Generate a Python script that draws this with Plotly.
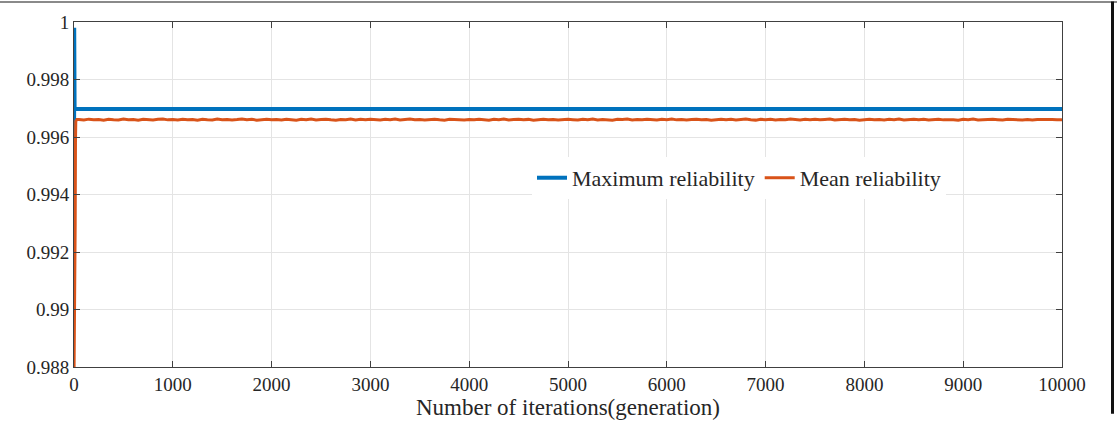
import plotly.graph_objects as go

# ---------------- data ----------------
max_iter = [0, 2, 6, 10000]
max_rel = [0.99250, 0.99980, 0.99697, 0.99697]

mean_iter_early = [0, 3, 6, 9, 12, 15, 18, 30]
mean_rel_early = [0.98760, 0.98910, 0.98790, 0.98880, 0.99300, 0.99580, 0.99655, 0.99661]

mean_iter_late = list(range(50, 10001, 50))
mean_rel_late = [
    0.996612, 0.996588, 0.996621, 0.996597, 0.996605, 0.996583, 0.996618, 0.996601, 0.996592, 0.996624,
    0.996599, 0.996610, 0.996586, 0.996619, 0.996603, 0.996590, 0.996615, 0.996622, 0.996596, 0.996607,
    0.996589, 0.996617, 0.996600, 0.996611, 0.996584, 0.996620, 0.996604, 0.996593, 0.996623, 0.996598,
    0.996609, 0.996591, 0.996606, 0.996625, 0.996597, 0.996613, 0.996585, 0.996602, 0.996619, 0.996599,
    0.996612, 0.996590, 0.996621, 0.996603, 0.996587, 0.996614, 0.996598, 0.996623, 0.996592, 0.996606,
    0.996618, 0.996600, 0.996586, 0.996611, 0.996604, 0.996624, 0.996593, 0.996613, 0.996597, 0.996620,
    0.996605, 0.996588, 0.996616, 0.996599, 0.996622, 0.996591, 0.996607, 0.996625, 0.996598, 0.996612,
    0.996590, 0.996604, 0.996619, 0.996600, 0.996585, 0.996614, 0.996606, 0.996623, 0.996594, 0.996611,
    0.996598, 0.996620, 0.996603, 0.996587, 0.996615, 0.996601, 0.996624, 0.996592, 0.996608, 0.996618,
    0.996599, 0.996613, 0.996586, 0.996605, 0.996621, 0.996597, 0.996610, 0.996591, 0.996606, 0.996616,
    0.996602, 0.996589, 0.996619, 0.996604, 0.996623, 0.996595, 0.996611, 0.996600, 0.996586, 0.996617,
    0.996606, 0.996622, 0.996593, 0.996609, 0.996598, 0.996620, 0.996603, 0.996588, 0.996614, 0.996601,
    0.996625, 0.996596, 0.996610, 0.996590, 0.996607, 0.996618, 0.996599, 0.996612, 0.996585, 0.996604,
    0.996621, 0.996597, 0.996613, 0.996592, 0.996608, 0.996624, 0.996600, 0.996587, 0.996616, 0.996603,
    0.996619, 0.996594, 0.996611, 0.996598, 0.996622, 0.996605, 0.996589, 0.996614, 0.996601, 0.996617,
    0.996596, 0.996609, 0.996623, 0.996591, 0.996606, 0.996619, 0.996599, 0.996612, 0.996586, 0.996603,
    0.996620, 0.996597, 0.996610, 0.996593, 0.996615, 0.996602, 0.996624, 0.996590, 0.996607, 0.996618,
    0.996598, 0.996613, 0.996588, 0.996605, 0.996621, 0.996596, 0.996611, 0.996600, 0.996585, 0.996616,
    0.996604, 0.996622, 0.996594, 0.996609, 0.996599, 0.996619, 0.996602, 0.996589, 0.996614, 0.996606,
    0.996623, 0.996595, 0.996610, 0.996591, 0.996608, 0.996617, 0.996600, 0.996612, 0.996597, 0.996604,
]

mean_iter = mean_iter_early + mean_iter_late
mean_rel = mean_rel_early + mean_rel_late

x_ticks = [0, 1000, 2000, 3000, 4000, 5000, 6000, 7000, 8000, 9000, 10000]
x_tick_labels = ["0", "1000", "2000", "3000", "4000", "5000", "6000", "7000", "8000", "9000", "10000"]
y_ticks = [0.988, 0.990, 0.992, 0.994, 0.996, 0.998, 1.0]
y_tick_labels = ["0.988", "0.99", "0.992", "0.994", "0.996", "0.998", "1"]

series_names = ["Maximum reliability", "Mean reliability"]
x_title = "Number of iterations(generation)"

# ---------------- layout constants ----------------
W, H = 1117, 423
L, R, T, B = 74, 55, 21, 48
PW, PH = W - L - R, H - T - B
FONT = "Liberation Serif"
AXIS_COLOR = "#404040"
GRID_COLOR = "#e4e4e4"

def px_to_paper_x(px):
    return (px - L) / PW

def px_to_paper_y(py):
    return (H - B - py) / PH

fig = go.Figure()
fig.add_trace(go.Scatter(x=max_iter, y=max_rel, mode="lines", name=series_names[0],
                         line=dict(color="#0072BD", width=4)))
fig.add_trace(go.Scatter(x=mean_iter, y=mean_rel, mode="lines", name=series_names[1],
                         line=dict(color="#D95319", width=3)))

axis_common = dict(showline=True, linecolor=AXIS_COLOR, linewidth=1, mirror="ticks",
                   ticks="inside", ticklen=6, tickcolor=AXIS_COLOR, tickwidth=1,
                   showgrid=True, gridcolor=GRID_COLOR, gridwidth=1, zeroline=False,
                   tickfont=dict(family=FONT, size=19, color="#262626"))

fig.update_xaxes(range=[0, 10000], tickvals=x_ticks, ticktext=x_tick_labels,
                 title=dict(text=x_title, font=dict(family=FONT, size=23, color="#262626"), standoff=0),
                 **axis_common)
fig.update_yaxes(range=[0.988, 1.0], tickvals=y_ticks, ticktext=y_tick_labels,
                 **axis_common)

fig.update_layout(
    width=W, height=H,
    margin=dict(l=L, r=R, t=T, b=B, pad=0),
    paper_bgcolor="white", plot_bgcolor="white",
    font=dict(family=FONT, color="#262626"),
    legend=dict(orientation="h", x=px_to_paper_x(532), y=px_to_paper_y(181),
                xanchor="left", yanchor="middle", bgcolor="white", borderwidth=0,
                font=dict(family=FONT, size=22, color="#262626"), itemwidth=30,
                tracegroupgap=0),
    shapes=[
        dict(type="line", xref="paper", yref="paper",
             x0=px_to_paper_x(0), x1=px_to_paper_x(W), y0=px_to_paper_y(0.5), y1=px_to_paper_y(0.5),
             line=dict(color="#8a8a8a", width=2)),
        dict(type="line", xref="paper", yref="paper",
             x0=px_to_paper_x(1112.5), x1=px_to_paper_x(1112.5), y0=px_to_paper_y(0), y1=px_to_paper_y(H),
             line=dict(color="#111111", width=3)),
    ],
)

fig.write_html("out.html")
